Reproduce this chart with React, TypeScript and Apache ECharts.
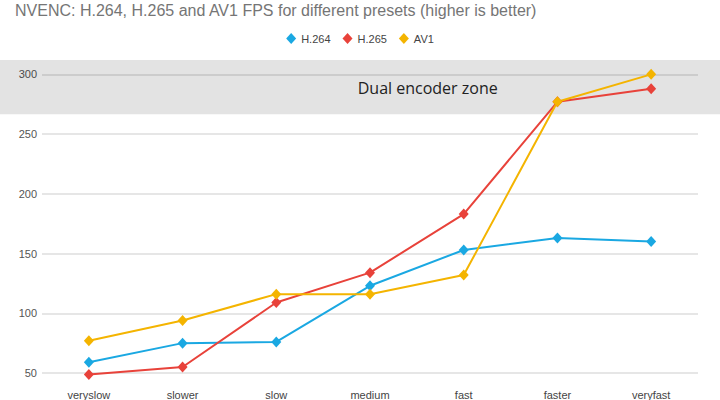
import React, { useEffect, useRef } from "react";
import * as echarts from "echarts";

const presets = ["veryslow", "slower", "slow", "medium", "fast", "faster", "veryfast"];
const h264 = [59, 75, 76, 123, 153, 163, 160];
const h265 = [48.7, 55, 109, 134, 183, 277, 288];
const av1 = [77, 94, 116, 116, 132, 277, 300];
const zoneFrom = 266.5;
const zoneTo = 312;
const yTicksInterval = 50;
const yMin = 50;

const titleText = "NVENC: H.264, H.265 and AV1 FPS for different presets (higher is better)";
const zoneLabel = "Dual encoder zone";

export default function App() {
  const ref = useRef<HTMLDivElement>(null);
  useEffect(() => {
    if (!ref.current) return;
    const chart = echarts.init(ref.current, undefined, { renderer: "svg" });
    const mk = (name: string, data: number[], color: string) => ({
      name,
      type: "line",
      data,
      color,
      clip: false,
      symbol: "diamond",
      symbolSize: [10, 11],
      lineStyle: { width: 2, color },
      itemStyle: { color },
      z: 3,
    });
    chart.setOption({
      animation: false,
      title: {
        text: titleText,
        left: 15,
        top: 2,
        padding: 0,
        textStyle: {
          fontSize: 16,
          fontWeight: "normal",
          color: "#757575",
          fontFamily: "Liberation Sans, Arial, sans-serif",
        },
      },
      legend: {
        top: 28,
        left: "center",
        icon: "diamond",
        itemWidth: 10,
        itemHeight: 11,
        itemGap: 12,
        textStyle: { fontSize: 11, color: "#444", fontFamily: "Liberation Sans, Arial, sans-serif" },
      },
      grid: { left: 42, right: 22, top: 60, bottom: 18, containLabel: false },
      xAxis: {
        type: "category",
        data: presets,
        boundaryGap: true,
        axisLine: { show: false },
        axisTick: { show: false },
        axisLabel: {
          margin: 16,
          fontSize: 11,
          color: "#444",
          fontFamily: "Liberation Sans, Arial, sans-serif",
        },
      },
      yAxis: {
        type: "value",
        min: yMin,
        max: zoneTo,
        interval: yTicksInterval,
        axisLine: { show: false },
        axisTick: { show: false },
        axisLabel: {
          margin: 5,
          fontSize: 11,
          color: "#555",
          showMaxLabel: false,
          fontFamily: "Liberation Sans, Arial, sans-serif",
        },
        splitLine: { show: true, showMaxLine: false, lineStyle: { color: "#e6e6e6", width: 2 } },
      },
      series: [mk("H.264", h264, "#1aa8e2"), mk("H.265", h265, "#e8423a"), mk("AV1", av1, "#f4b400")],
    });
    const yTop = chart.convertToPixel({ yAxisIndex: 0 }, zoneTo) as number;
    const yBot = chart.convertToPixel({ yAxisIndex: 0 }, zoneFrom) as number;
    const xMid = chart.convertToPixel({ xAxisIndex: 0 }, "fast") as number;
    chart.setOption({
      graphic: [
        {
          type: "rect",
          z: 1,
          silent: true,
          shape: { x: 0, y: yTop, width: 720, height: yBot - yTop },
          style: { fill: "rgba(0,0,0,0.11)" },
        },
        {
          type: "text",
          z: 2,
          silent: true,
          x: xMid - 36,
          y: (yTop + yBot) / 2 + 1,
          style: {
            text: zoneLabel,
            fill: "#222",
            fontSize: 16,
            fontFamily: "Open Sans, Liberation Sans, sans-serif",
            textAlign: "center",
            textVerticalAlign: "middle",
          },
        },
      ],
    });
    return () => chart.dispose();
  }, []);
  return <div ref={ref} style={{ width: 720, height: 400, position: "absolute", left: 0, top: 0 }} />;
}
